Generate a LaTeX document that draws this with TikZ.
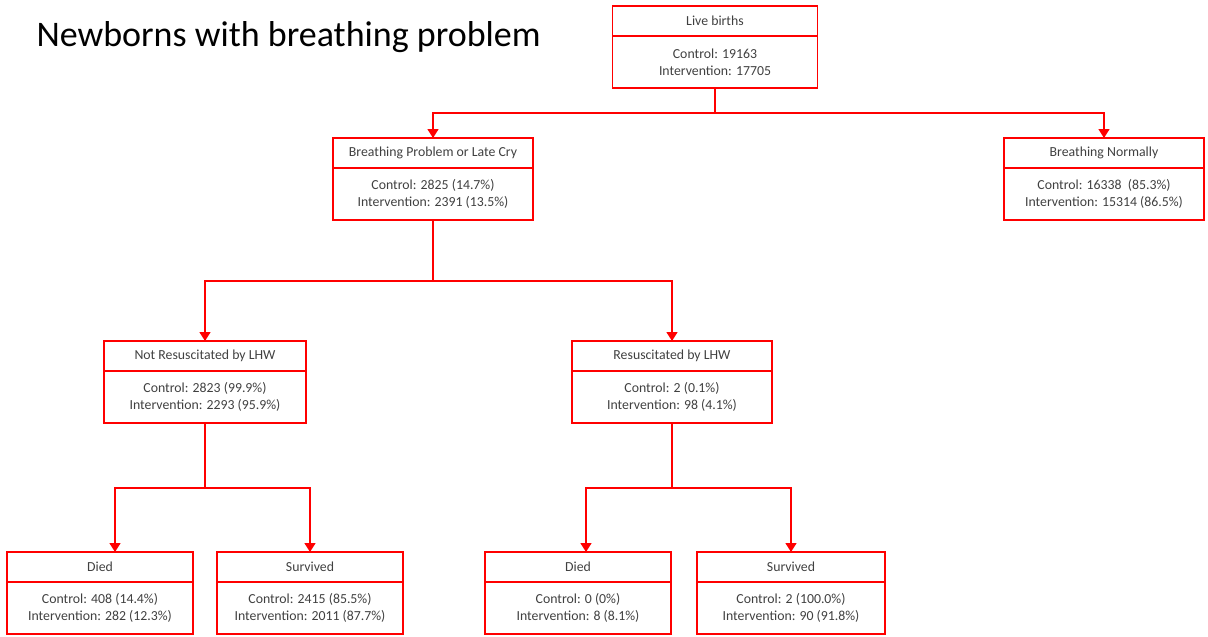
\documentclass[tikz,border=0pt]{standalone}
\usepackage{fontspec}
\setmainfont{Carlito}
\usetikzlibrary{arrows.meta,positioning}
\definecolor{boxred}{RGB}{255,0,0}
\definecolor{txtgray}{RGB}{64,64,64}
\tikzset{
  head/.style={draw=boxred, line width=1.6pt, inner sep=0pt, outer sep=0pt,
    minimum height=30pt, text=txtgray, font=\fontsize{13.8}{17}\selectfont},
  body/.style={head, minimum height=52pt, align=center},
  link/.style={draw=boxred, line width=1.6pt},
  arr/.style={link, -{Triangle[width=11pt,length=9pt]}}
}
\begin{document}
\begin{tikzpicture}[x=1pt,y=-1pt]
\useasboundingbox (0,0) rectangle (1208,637);
\node[anchor=west, font=\fontsize{36}{42}\selectfont] (title) at (33,37) {Newborns with breathing problem};

% top
\node[head, minimum width=205pt] (liveH) at (715,21) {Live births};
\node[body, minimum width=205pt, below=0pt of liveH] (liveB) {Control: 19163\\Intervention: 17705};

% second row
\node[head, minimum width=200pt] (bpH) at (433,153) {Breathing Problem or Late Cry};
\node[body, minimum width=200pt, below=0pt of bpH] (bpB) {Control: 2825 (14.7\%)\\Intervention: 2391 (13.5\%)};
\node[head, minimum width=200pt] (bnH) at (1104,153) {Breathing Normally};
\node[body, minimum width=200pt, below=0pt of bnH] (bnB) {Control: 16338\ \ (85.3\%)\\Intervention: 15314 (86.5\%)};

% third row
\node[head, minimum width=202pt] (nrH) at (205,356) {Not Resuscitated by LHW};
\node[body, minimum width=202pt, below=0pt of nrH] (nrB) {Control: 2823 (99.9\%)\\Intervention: 2293 (95.9\%)};
\node[head, minimum width=200pt] (rH) at (672,356) {Resuscitated by LHW};
\node[body, minimum width=200pt, below=0pt of rH] (rB) {Control: 2 (0.1\%)\\Intervention: 98 (4.1\%)};

% bottom row
\node[head, minimum width=186pt] (d1H) at (100,567) {Died};
\node[body, minimum width=186pt, below=0pt of d1H] (d1B) {Control: 408 (14.4\%)\\Intervention: 282 (12.3\%)};
\node[head, minimum width=186pt] (s1H) at (310,567) {Survived};
\node[body, minimum width=186pt, below=0pt of s1H] (s1B) {Control: 2415 (85.5\%)\\Intervention: 2011 (87.7\%)};
\node[head, minimum width=186pt] (d2H) at (578,567) {Died};
\node[body, minimum width=186pt, below=0pt of d2H] (d2B) {Control: 0 (0\%)\\Intervention: 8 (8.1\%)};
\node[head, minimum width=188pt] (s2H) at (791,567) {Survived};
\node[body, minimum width=188pt, below=0pt of s2H] (s2B) {Control: 2 (100.0\%)\\Intervention: 90 (91.8\%)};

% connectors
\draw[link] (liveB.south) -- ++(0,25) coordinate (j1);
\draw[arr] (j1) -| (bpH.north);
\draw[arr] (j1) -| (bnH.north);
\draw[link] (bpB.south) -- ++(0,61) coordinate (j2);
\draw[arr] (j2) -| (nrH.north);
\draw[arr] (j2) -| (rH.north);
\draw[link] (nrB.south) -- ++(0,65) coordinate (j3);
\draw[arr] (j3) -| ([xshift=15pt]d1H.north);
\draw[arr] (j3) -| (s1H.north);
\draw[link] (rB.south) -- ++(0,65) coordinate (j4);
\draw[arr] (j4) -| ([xshift=8pt]d2H.north);
\draw[arr] (j4) -| (s2H.north);
\end{tikzpicture}
\end{document}
